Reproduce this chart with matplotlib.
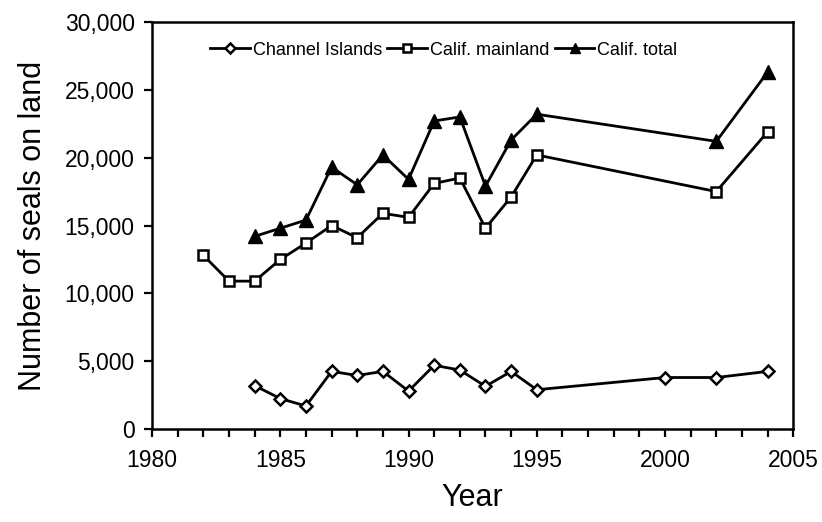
import matplotlib
matplotlib.use('Agg')
import matplotlib.pyplot as plt
from matplotlib.ticker import MultipleLocator, FuncFormatter

# Seal counts
years_ci = [1984, 1985, 1986, 1987, 1988, 1989, 1990, 1991, 1992, 1993, 1994, 1995, 2000, 2002, 2004]
channel_islands = [3200, 2250, 1700, 4250, 3950, 4250, 2800, 4700, 4350, 3150, 4250, 2900, 3800, 3800, 4250]

years_ml = [1982, 1983, 1984, 1985, 1986, 1987, 1988, 1989, 1990, 1991, 1992, 1993, 1994, 1995, 2002, 2004]
calif_mainland = [12800, 10900, 10900, 12500, 13700, 15000, 14100, 15900, 15600, 18100, 18500, 14800, 17100, 20200, 17500, 21900]

years_tot = [1984, 1985, 1986, 1987, 1988, 1989, 1990, 1991, 1992, 1993, 1994, 1995, 2002, 2004]
calif_total = [14200, 14800, 15400, 19300, 18000, 20200, 18400, 22700, 23000, 17900, 21300, 23200, 21200, 26300]

plt.rcParams["font.family"] = ["Liberation Sans", "DejaVu Sans"]

fig = plt.figure(figsize=(8.22, 5.22), dpi=100)
ax = fig.add_axes([0.185, 0.178, 0.78, 0.78])

ax.plot(years_ci, channel_islands, color="black", lw=2, marker="D", ms=6.5,
        mfc="white", mec="black", mew=1.8, label="Channel Islands")
ax.plot(years_ml, calif_mainland, color="black", lw=2, marker="s", ms=7,
        mfc="white", mec="black", mew=1.8, label="Calif. mainland")
ax.plot(years_tot, calif_total, color="black", lw=2, marker="^", ms=9.5,
        mfc="black", mec="black", label="Calif. total")

ax.set_xlim(1980, 2005)
ax.set_ylim(0, 30000)
ax.xaxis.set_major_locator(MultipleLocator(5))
ax.xaxis.set_minor_locator(MultipleLocator(1))
ax.yaxis.set_major_locator(MultipleLocator(5000))
ax.yaxis.set_major_formatter(FuncFormatter(lambda v, p: f"{int(v):,}"))

ax.tick_params(axis="both", which="both", direction="out", length=5.5, width=1.6,
               labelsize=16.5, color="black")
ax.tick_params(axis="x", pad=9)
ax.tick_params(axis="y", pad=7)
for s in ax.spines.values():
    s.set_linewidth(1.8)

ax.set_xlabel("Year", fontsize=22, labelpad=8)
ax.set_ylabel("Number of seals on land", fontsize=22, labelpad=12)

ax.legend(loc="upper left", bbox_to_anchor=(0.06, 1.0), ncol=3, frameon=False,
          fontsize=13, handlelength=2.2, handletextpad=0.15, columnspacing=0.3,
          borderaxespad=0.7, markerscale=0.8)

plt.savefig("out.png", dpi=100, facecolor="white")
